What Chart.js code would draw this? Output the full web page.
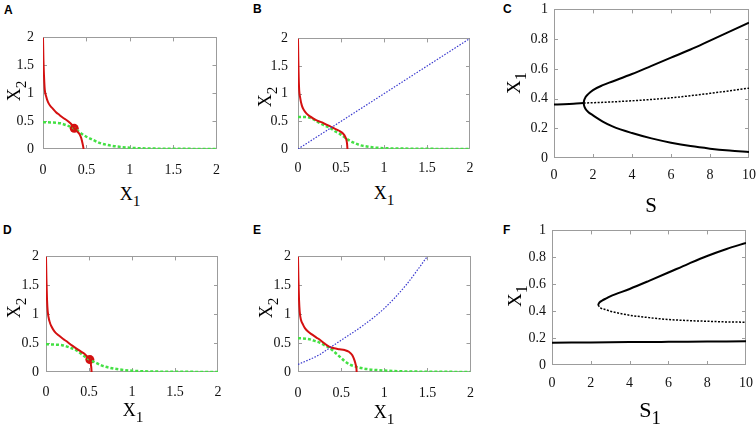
<!DOCTYPE html>
<html>
<head>
<meta charset="utf-8">
<script src="https://cdn.jsdelivr.net/npm/chart.js@4/dist/chart.umd.min.js"></script>
<style>
html,body{margin:0;padding:0;background:#fff;overflow:hidden;}
#wrap{position:relative;width:756px;height:426px;}
canvas{position:absolute;}
.lbl{position:absolute;font-family:"Liberation Sans",Arial,sans-serif;font-weight:bold;font-size:12px;line-height:12px;color:#000;}
.t{position:absolute;font-family:"Liberation Serif","Times New Roman",serif;color:#000;white-space:nowrap;line-height:1;transform:translate(-50%,-50%);z-index:2;-webkit-font-smoothing:antialiased;}
.t.r{transform:translate(-50%,-50%) rotate(-90deg);}
.t sub{font-size:0.85em;vertical-align:-0.4em;line-height:0;}
</style>
</head>
<body>
<div id="wrap">
  <canvas id="cA"></canvas><canvas id="cB"></canvas><canvas id="cC"></canvas>
  <canvas id="cD"></canvas><canvas id="cE"></canvas><canvas id="cF"></canvas>
  <div class="lbl" style="left:4px;top:4px">A</div>
  <div class="lbl" style="left:253px;top:3px">B</div>
  <div class="lbl" style="left:503px;top:3px">C</div>
  <div class="lbl" style="left:3px;top:224px">D</div>
  <div class="lbl" style="left:253px;top:224px">E</div>
  <div class="lbl" style="left:503px;top:224px">F</div>
  <div class="t" style="left:130px;top:194px;font-size:18px">X<sub>1</sub></div>
  <div class="t r" style="left:14px;top:91px;font-size:18px">X<sub>2</sub></div>
  <div class="t" style="left:384px;top:193px;font-size:18px">X<sub>1</sub></div>
  <div class="t r" style="left:265px;top:97px;font-size:18px">X<sub>2</sub></div>
  <div class="t" style="left:651px;top:205px;font-size:21px">S</div>
  <div class="t r" style="left:513px;top:83px;font-size:19px">X<sub>1</sub></div>
  <div class="t" style="left:133px;top:410px;font-size:18px">X<sub>1</sub></div>
  <div class="t r" style="left:14px;top:308px;font-size:18px">X<sub>2</sub></div>
  <div class="t" style="left:384px;top:412px;font-size:18px">X<sub>1</sub></div>
  <div class="t r" style="left:266px;top:308px;font-size:18px">X<sub>2</sub></div>
  <div class="t" style="left:650px;top:410px;font-size:22px">S<sub>1</sub></div>
  <div class="t r" style="left:514px;top:296px;font-size:19px">X<sub>1</sub></div>
</div>
<script>
// ---- tick values ----
const phaseTicks = [0, 0.5, 1, 1.5, 2];
const sTicks = [0, 2, 4, 6, 8, 10];
const x1Ticks = [0, 0.2, 0.4, 0.6, 0.8, 1];

// ---- Panel A ----
const aRedX = [0, 0.005, 0.012, 0.02, 0.035, 0.058, 0.085, 0.115, 0.15, 0.19, 0.23, 0.27, 0.31, 0.34, 0.36, 0.39, 0.42, 0.44, 0.45, 0.46, 0.468];
const aRedY = [2, 1.6, 1.3, 1.07, 0.95, 0.84, 0.77, 0.72, 0.66, 0.61, 0.56, 0.52, 0.47, 0.42, 0.37, 0.32, 0.27, 0.2, 0.14, 0.07, 0];
const aGreenX = [0, 0.1, 0.2, 0.28, 0.36, 0.43, 0.5, 0.58, 0.65, 0.75, 0.85, 1.0, 1.2, 1.5, 2];
const aGreenY = [0.48, 0.475, 0.46, 0.42, 0.37, 0.29, 0.22, 0.16, 0.11, 0.07, 0.045, 0.022, 0.01, 0.004, 0.001];
const aDotX = [0.36];
const aDotY = [0.37];

// ---- Panel B ----
const bRedX = [0, 0.004, 0.012, 0.025, 0.046, 0.07, 0.1, 0.14, 0.18, 0.23, 0.28, 0.33, 0.375, 0.41, 0.45, 0.49, 0.53, 0.55, 0.56, 0.57, 0.575];
const bRedY = [2, 1.6, 1.12, 0.93, 0.78, 0.7, 0.64, 0.59, 0.55, 0.51, 0.48, 0.44, 0.41, 0.38, 0.35, 0.32, 0.27, 0.22, 0.18, 0.1, 0];
const bGreenX = [0, 0.1, 0.15, 0.2, 0.25, 0.3, 0.375, 0.43, 0.49, 0.57, 0.64, 0.72, 0.8, 0.9, 1.0, 1.2, 1.5, 2];
const bGreenY = [0.58, 0.578, 0.56, 0.52, 0.47, 0.43, 0.38, 0.32, 0.27, 0.18, 0.12, 0.07, 0.045, 0.025, 0.015, 0.008, 0.003, 0.001];
const bBlueX = [0, 2];
const bBlueY = [0, 2];

// ---- Panel C ----
const cBaseS = [0, 0.5, 1, 1.52];
const cBaseX1 = [0.36, 0.362, 0.365, 0.37];
const cUpperS = [1.52, 1.55, 1.62, 1.75, 2, 2.5, 3, 4, 5, 6, 7, 8, 9, 10];
const cUpperX1 = [0.37, 0.39, 0.41, 0.43, 0.457, 0.49, 0.515, 0.565, 0.62, 0.675, 0.73, 0.79, 0.85, 0.91];
const cLowerS = [1.52, 1.55, 1.62, 1.75, 2, 2.5, 3, 4, 5, 6, 7, 8, 9, 10];
const cLowerX1 = [0.37, 0.35, 0.33, 0.31, 0.287, 0.245, 0.213, 0.168, 0.132, 0.103, 0.08, 0.063, 0.05, 0.04];
const cMidS = [1.52, 2, 4, 6, 8, 10];
const cMidX1 = [0.37, 0.372, 0.385, 0.405, 0.435, 0.47];

// ---- Panel D ----
const dRedX = [0, 0.005, 0.012, 0.02, 0.04, 0.07, 0.1, 0.15, 0.2, 0.25, 0.3, 0.35, 0.4, 0.45, 0.49, 0.51, 0.52, 0.527, 0.53];
const dRedY = [2, 1.6, 1.25, 1.05, 0.88, 0.77, 0.7, 0.63, 0.57, 0.52, 0.46, 0.41, 0.36, 0.31, 0.25, 0.215, 0.15, 0.07, 0];
const dGreenX = [0, 0.1, 0.2, 0.28, 0.36, 0.43, 0.5, 0.58, 0.65, 0.75, 0.85, 1.0, 1.2, 1.5, 2];
const dGreenY = [0.48, 0.475, 0.46, 0.42, 0.37, 0.29, 0.22, 0.16, 0.11, 0.07, 0.045, 0.022, 0.01, 0.004, 0.001];
const dDotX = [0.51];
const dDotY = [0.215];

// ---- Panel E ----
const eRedX = [0, 0.005, 0.012, 0.02, 0.035, 0.058, 0.08, 0.116, 0.16, 0.21, 0.26, 0.31, 0.36, 0.42, 0.48, 0.54, 0.59, 0.63, 0.655, 0.67, 0.678, 0.68];
const eRedY = [2, 1.6, 1.25, 1.04, 0.9, 0.82, 0.76, 0.7, 0.65, 0.6, 0.55, 0.49, 0.44, 0.41, 0.395, 0.38, 0.35, 0.29, 0.2, 0.12, 0.05, 0];
const eGreenX = [0, 0.1, 0.15, 0.2, 0.25, 0.3, 0.36, 0.42, 0.48, 0.54, 0.6, 0.7, 0.8, 0.9, 1.0, 1.2, 1.5, 2];
const eGreenY = [0.585, 0.575, 0.56, 0.535, 0.51, 0.47, 0.425, 0.35, 0.27, 0.19, 0.13, 0.08, 0.05, 0.035, 0.025, 0.012, 0.005, 0.001];
const eBlueX = [0, 0.25, 0.35, 0.5, 0.75, 1.0, 1.25, 1.5];
const eBlueY = [0.13, 0.3, 0.4, 0.55, 0.8, 1.1, 1.5, 2.0];

// ---- Panel F ----
const fLowS = [0, 2, 4, 6, 8, 10];
const fLowX1 = [0.166, 0.168, 0.17, 0.172, 0.174, 0.176];
const fUpperS = [2.37, 2.45, 2.6, 2.8, 3, 4, 5, 6, 7, 8, 9, 10];
const fUpperX1 = [0.445, 0.465, 0.48, 0.495, 0.51, 0.565, 0.625, 0.687, 0.75, 0.81, 0.862, 0.907];
const fMidS = [2.37, 2.5, 2.8, 3, 4, 5, 6, 7, 8, 9, 10];
const fMidX1 = [0.445, 0.425, 0.41, 0.4, 0.37, 0.352, 0.338, 0.33, 0.325, 0.32, 0.318];

// ---- styles ----
const RED = '#d41010', GREEN = '#44e044', BLUE = '#3a3acf', BLACK = '#000';

function pts(xs, ys){ return xs.map((x,i)=>({x:x, y:ys[i]})); }
function line(xs, ys, color, width, dash){
  return {data: pts(xs, ys), showLine:true, pointRadius:0, borderColor:color, borderWidth:width,
          borderDash: dash || [], cubicInterpolationMode:'monotone', fill:false};
}
function dot(xs, ys){
  return {data: pts(xs, ys), showLine:false, pointRadius:4.5, backgroundColor:RED, borderColor:RED, borderWidth:0};
}

const framePlugin = {
  id:'frame',
  beforeDatasetsDraw(chart){
    const ctx = chart.ctx, a = chart.chartArea, sx = chart.scales.x, sy = chart.scales.y;
    ctx.save();
    ctx.strokeStyle = '#9c9c9c';
    ctx.lineWidth = 1;
    ctx.strokeRect(Math.round(a.left)+0.5, Math.round(a.top)+0.5, Math.round(a.right-a.left)-1, Math.round(a.bottom-a.top)-1);
    ctx.beginPath();
    sx.ticks.forEach(t=>{
      const p = Math.round(sx.getPixelForValue(t.value))+0.5;
      if (p < a.left+2 || p > a.right-2) return;
      ctx.moveTo(p, a.bottom); ctx.lineTo(p, a.bottom-4);
      ctx.moveTo(p, a.top); ctx.lineTo(p, a.top+4);
    });
    sy.ticks.forEach(t=>{
      const p = Math.round(sy.getPixelForValue(t.value))+0.5;
      if (p < a.top+2 || p > a.bottom-2) return;
      ctx.moveTo(a.left, p); ctx.lineTo(a.left+4, p);
      ctx.moveTo(a.right, p); ctx.lineTo(a.right-4, p);
    });
    ctx.stroke();
    ctx.restore();
  }
};

const YW = 40, PADR = 16, PADT = 12, XH = 34;
const TICKFONT = {family:"'Liberation Serif', 'Times New Roman', serif", size:14};
function makePanel(id, g, xr, yr, xt, yt, datasets){
  const cv = document.getElementById(id);
  const w = g.R - g.L + YW + PADR, h = g.B - g.T + PADT + XH;
  cv.width = w; cv.height = h;
  cv.style.width = w+'px'; cv.style.height = h+'px';
  cv.style.left = (g.L - YW)+'px'; cv.style.top = (g.T - PADT)+'px';
  new Chart(cv.getContext('2d'), {
    type:'scatter',
    data:{datasets: datasets},
    plugins:[framePlugin],
    options:{
      responsive:false, animation:false, devicePixelRatio:1,
      layout:{padding:{top:PADT, right:PADR, left:0, bottom:0}},
      plugins:{legend:{display:false}, tooltip:{enabled:false}},
      scales:{
        x:{type:'linear', min:xr[0], max:xr[1],
           grid:{display:false, drawTicks:false}, border:{display:false},
           afterBuildTicks:(s)=>{ s.ticks = xt.map(v=>({value:v})); },
           afterFit:(s)=>{ s.height = XH; },
           ticks:{autoSkip:false, maxRotation:0, padding:g.xp, color:'#111', font:TICKFONT,
                  callback:(v)=>String(v)}},
        y:{type:'linear', min:yr[0], max:yr[1],
           grid:{display:false, drawTicks:false}, border:{display:false},
           afterBuildTicks:(s)=>{ s.ticks = yt.map(v=>({value:v})); },
           afterFit:(s)=>{ s.width = YW; },
           ticks:{autoSkip:false, padding:g.yp, color:'#111', font:TICKFONT,
                  callback:(v)=>String(v)}}
      }
    }
  });
}

function build(){
  makePanel('cA', {L:43, R:217, T:32, B:149, xp:13, yp:9}, [0,2], [0,2], phaseTicks, phaseTicks, [
    line(aRedX, aRedY, RED, 2),
    line(aGreenX, aGreenY, GREEN, 2.5, [3,2]),
    dot(aDotX, aDotY)
  ]);
  makePanel('cB', {L:298, R:470, T:32, B:149, xp:11, yp:10}, [0,2], [0,2], phaseTicks, phaseTicks, [
    line(bBlueX, bBlueY, BLUE, 1.2, [1.5,1.5]),
    line(bRedX, bRedY, RED, 2),
    line(bGreenX, bGreenY, GREEN, 2.5, [3,2])
  ]);
  makePanel('cC', {L:554, R:749, T:7, B:158, xp:9, yp:6}, [0,10], [0,1], sTicks, x1Ticks, [
    line(cBaseS, cBaseX1, BLACK, 2),
    line(cUpperS, cUpperX1, BLACK, 2),
    line(cLowerS, cLowerX1, BLACK, 2),
    line(cMidS, cMidX1, BLACK, 1.5, [2,1.5])
  ]);
  makePanel('cD', {L:46, R:218, T:253, B:372, xp:12, yp:7}, [0,2], [0,2], phaseTicks, phaseTicks, [
    line(dRedX, dRedY, RED, 2),
    line(dGreenX, dGreenY, GREEN, 2.5, [3,2]),
    dot(dDotX, dDotY)
  ]);
  makePanel('cE', {L:298, R:471, T:253, B:372, xp:13, yp:7}, [0,2], [0,2], phaseTicks, phaseTicks, [
    line(eBlueX, eBlueY, BLUE, 1.2, [1.5,1.5]),
    line(eRedX, eRedY, RED, 2),
    line(eGreenX, eGreenY, GREEN, 2.5, [3,2])
  ]);
  makePanel('cF', {L:552, R:747, T:228, B:365, xp:10, yp:6}, [0,10], [0,1], sTicks, x1Ticks, [
    line(fLowS, fLowX1, BLACK, 2),
    line(fUpperS, fUpperX1, BLACK, 2),
    line(fMidS, fMidX1, BLACK, 1.5, [2,1.5])
  ]);
}
if (document.fonts && document.fonts.load) {
  document.fonts.load("14px 'Liberation Serif'").then(build, build);
} else { build(); }
</script>
</body>
</html>
